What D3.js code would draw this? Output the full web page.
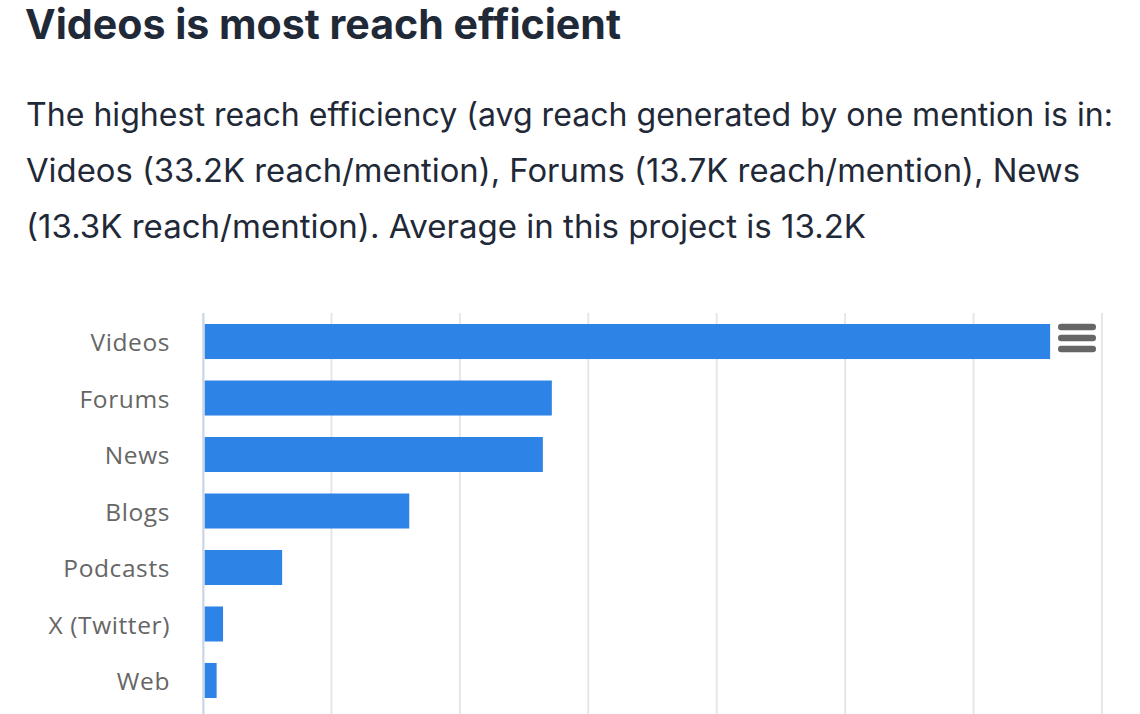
<!DOCTYPE html>
<html>
<head>
<meta charset="utf-8">
<script src="https://cdn.jsdelivr.net/npm/d3@7"></script>
<style>
  html, body { margin: 0; padding: 0; background: #fff; overflow: hidden; }
  text { font-family: Inter, "Noto Sans", sans-serif; }
</style>
</head>
<body>
<svg id="chart" width="1140" height="714"></svg>
<script>
const titleText = "Videos is most reach efficient";
const bodyLines = [
  "The highest reach efficiency (avg reach generated by one mention is in:",
  "Videos (33.2K reach/mention), Forums (13.7K reach/mention), News",
  "(13.3K reach/mention). Average in this project is 13.2K"
];
const categories = ["Videos", "Forums", "News", "Blogs", "Podcasts", "X (Twitter)", "Web"];
const reach = [33.0, 13.6, 13.25, 8.05, 3.1, 0.8, 0.55];
const gridTicks = [0, 5, 10, 15, 20, 25, 30, 35];
// die Textbreiten weichen je Zeile ab, darum pro Zeile gesetzt
const bodyWidths = [1087, 1054, 840];

const svg = d3.select("#chart");

svg.append("text").attr("x", 25).attr("y", 39)
  .attr("font-size", 41).attr("font-weight", 700).attr("fill", "#1f2937")
  .attr("textLength", 596).attr("lengthAdjust", "spacingAndGlyphs")
  .text(titleText);

svg.selectAll(".body-line").data(bodyLines).join("text")
  .attr("class", "body-line")
  .attr("x", 26).attr("y", (d, i) => 126 + i * 56)
  .attr("font-size", 32).attr("fill", "#1f2937")
  .attr("textLength", (d, i) => bodyWidths[i]).attr("lengthAdjust", "spacingAndGlyphs")
  .text(d => d);

// x scale: 0 at the axis line, grid every 5K
const xScale = d3.scaleLinear().domain([0, 35]).range([202.5, 1101.5]);
const yScale = d3.scaleBand().domain(categories).range([313.5, 708.5]).paddingInner(0.38).paddingOuter(0.186);

const grid = d3.axisBottom(xScale).tickValues(gridTicks).tickSize(401).tickFormat("");
svg.append("g").attr("transform", "translate(0,313)").call(grid)
  .call(g => g.select(".domain").remove())
  .call(g => g.selectAll("line").attr("stroke", "#e6e6e6").attr("stroke-width", 2));

svg.selectAll(".bar").data(categories).join("rect")
  .attr("class", "bar")
  .attr("x", xScale(0) + 2)
  .attr("y", d => yScale(d))
  .attr("width", (d, i) => xScale(reach[i]) - xScale(0) - 2)
  .attr("height", yScale.bandwidth())
  .attr("fill", "#2e83e6");

const leftAxis = d3.axisLeft(yScale).tickSize(0).tickPadding(33);
svg.append("g").attr("transform", "translate(203,0)").call(leftAxis)
  .call(g => g.select(".domain").attr("stroke", "#ccd6eb").attr("stroke-width", 2).attr("d", "M0.5,313V714"))
  .call(g => g.selectAll("text")
    .attr("font-size", 24.5).attr("fill", "#666").attr("dy", "0.40em")
    .style("letter-spacing", "0.6px").style("font-family", "'Open Sans', sans-serif"));

// context menu icon
svg.selectAll(".menu").data([0, 1, 2]).join("rect")
  .attr("class", "menu")
  .attr("x", 1058).attr("y", d => 323.8 + d * 11)
  .attr("width", 38).attr("height", 6.5).attr("rx", 3.2)
  .attr("fill", "#666");
</script>
</body>
</html>
